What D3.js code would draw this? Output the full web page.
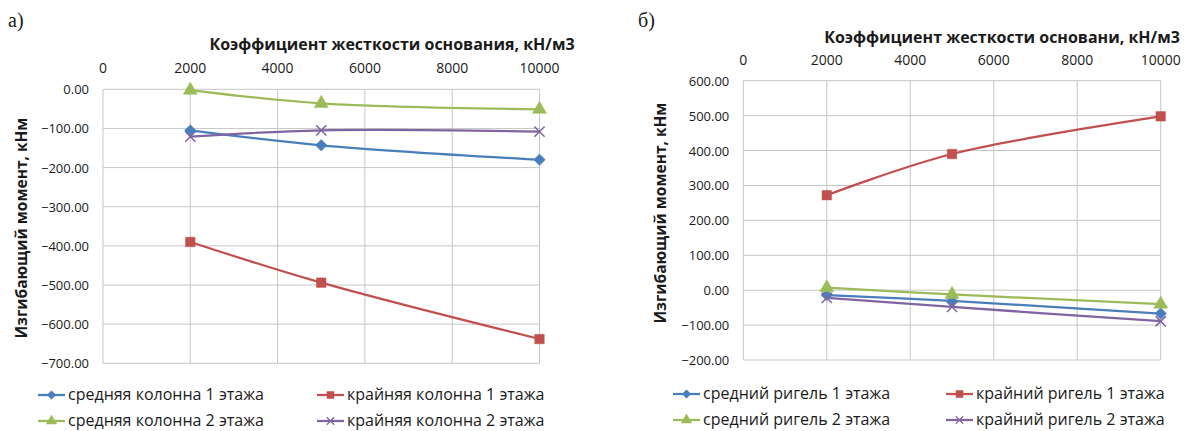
<!DOCTYPE html>
<html>
<head>
<meta charset="utf-8">
<script src="https://cdn.jsdelivr.net/npm/d3@7"></script>
<style>
  body { margin: 0; background: #fff; }
  text { font-family: "Open Sans", "Noto Sans", sans-serif; fill: #1a1a1a; }
</style>
</head>
<body>
<div id="chart"></div>
<script>
// Data (kN/m3 on x, kNm on y)
var stiffness = [2000, 5000, 10000];
var xTicks = [0, 2000, 4000, 6000, 8000, 10000];

// a) columns
var colMid1 = [-105, -143, -180];
var colEdge1 = [-390, -494, -638];
var colMid2 = [-2, -36, -51];
var colEdge2 = [-121, -105, -108];
var colTicks = [0, -100, -200, -300, -400, -500, -600, -700];
var colNames = ["средняя колонна 1 этажа", "крайняя колонна 1 этажа",
                "средняя колонна 2 этажа", "крайняя колонна 2 этажа"];

// б) beams
var beamMid1 = [-14, -31, -67];
var beamEdge1 = [272, 390, 498];
var beamMid2 = [7, -12, -40];
var beamEdge2 = [-22, -48, -89];
var beamTicks = [600, 500, 400, 300, 200, 100, 0, -100, -200];
var beamNames = ["средний ригель 1 этажа", "крайний ригель 1 этажа",
                 "средний ригель 2 этажа", "крайний ригель 2 этажа"];

var colors = ["#4a7ebb", "#c0504d", "#9bbb59", "#8064a2"];
var symbols = [d3.symbolDiamond2, d3.symbolSquare, d3.symbolTriangle, d3.symbolX];
var markSize = [85, 90, 85, 70];

var svg = d3.select("#chart").append("svg")
  .attr("width", 1190)
  .attr("height", 431);

function drawChart(opt) {
  var x = d3.scaleLinear().domain([0, 10000]).range([opt.left, opt.right]);
  var y = d3.scaleLinear().domain(d3.extent(opt.yTicks)).range([opt.bottom, opt.top]);
  var g = svg.append("g");

  // panel letter
  g.append("text")
    .attr("x", opt.letterX)
    .attr("y", 27)
    .style("font-family", "'Liberation Serif', 'DejaVu Serif', serif")
    .style("font-size", "20px")
    .text(opt.letter);

  // gridlines
  g.selectAll("line.hgrid").data(opt.yTicks).enter().append("line")
    .attr("x1", opt.left).attr("x2", opt.right)
    .attr("y1", function(d) { return y(d); })
    .attr("y2", function(d) { return y(d); })
    .attr("stroke", "#c6c6c6").attr("stroke-width", 1);
  g.selectAll("line.vgrid").data(xTicks).enter().append("line")
    .attr("y1", opt.top).attr("y2", opt.bottom)
    .attr("x1", function(d) { return x(d); })
    .attr("x2", function(d) { return x(d); })
    .attr("stroke", "#c6c6c6").attr("stroke-width", 1);

  // x tick labels on top
  g.selectAll("text.xt").data(xTicks).enter().append("text")
    .attr("x", function(d) { return x(d); })
    .attr("y", opt.xTickY)
    .attr("text-anchor", "middle")
    .style("font-size", "14px")
    .text(function(d) { return d; });

  // y tick labels
  g.selectAll("text.yt").data(opt.yTicks).enter().append("text")
    .attr("x", opt.left - 14)
    .attr("y", function(d) { return y(d) + 5; })
    .attr("text-anchor", "end")
    .style("font-size", "13px")
    .text(function(d) { return d3.format(".2f")(d); });

  // axis titles
  g.append("text")
    .attr("x", opt.titleX)
    .attr("y", opt.titleY)
    .attr("text-anchor", "middle")
    .style("font-size", "16px")
    .style("font-weight", "bold")
    .text(opt.title);

  g.append("text")
    .attr("transform", "translate(" + opt.yTitleX + "," + opt.yTitleY + ") rotate(-90)")
    .attr("text-anchor", "middle")
    .style("font-size", "15.5px")
    .style("font-weight", "bold")
    .text("Изгибающий момент, кНм");

  // series
  var line = d3.line()
    .x(function(d, i) { return x(stiffness[i]); })
    .y(function(d) { return y(d); })
    .curve(d3.curveCatmullRom.alpha(0.5));

  opt.series.forEach(function(s, k) {
    g.append("path")
      .datum(s)
      .attr("d", line)
      .attr("fill", "none")
      .attr("stroke", colors[k])
      .attr("stroke-width", 2.25);
  });
  opt.series.forEach(function(s, k) {
    g.selectAll("path.m" + k).data(s).enter().append("path")
      .attr("transform", function(d, i) { return "translate(" + x(stiffness[i]) + "," + y(d) + ")"; })
      .attr("d", d3.symbol().type(symbols[k]).size(markSize[k]))
      .attr("fill", k == 3 ? "none" : colors[k])
      .attr("stroke", colors[k])
      .attr("stroke-width", k == 3 ? 1.5 : 0.5);
  });

  // legend
  opt.names.forEach(function(name, k) {
    var lx = opt.legendX[k % 2];
    var ly = opt.legendY[Math.floor(k / 2)];
    g.append("line")
      .attr("x1", lx).attr("x2", lx + 27)
      .attr("y1", ly).attr("y2", ly)
      .attr("stroke", colors[k]).attr("stroke-width", 2.25);
    g.append("path")
      .attr("transform", "translate(" + (lx + 13.5) + "," + ly + ")")
      .attr("d", d3.symbol().type(symbols[k]).size(markSize[k] * 0.55))
      .attr("fill", k == 3 ? "none" : colors[k])
      .attr("stroke", colors[k])
      .attr("stroke-width", k == 3 ? 1.2 : 0.5);
    g.append("text")
      .attr("x", lx + 30)
      .attr("y", ly + 5)
      .style("font-size", "16px")
      .text(name);
  });
}

drawChart({
  letter: "а)", letterX: 8,
  left: 103, right: 539.5, top: 89.3, bottom: 363.3,
  yTicks: colTicks,
  xTickY: 73,
  title: "Коэффициент жесткости основания, кН/м3",
  titleX: 392, titleY: 50,
  yTitleX: 27, yTitleY: 228,
  series: [colMid1, colEdge1, colMid2, colEdge2],
  names: colNames,
  legendX: [38, 317],
  legendY: [395, 421]
});

drawChart({
  letter: "б)", letterX: 638,
  left: 743.3, right: 1160.7, top: 80.7, bottom: 360,
  yTicks: beamTicks,
  xTickY: 65,
  title: "Коэффициент жесткости основани, кН/м3",
  titleX: 1002, titleY: 43,
  yTitleX: 666, yTitleY: 213,
  series: [beamMid1, beamEdge1, beamMid2, beamEdge2],
  names: beamNames,
  legendX: [673, 946],
  legendY: [394, 420]
});
</script>
</body>
</html>
